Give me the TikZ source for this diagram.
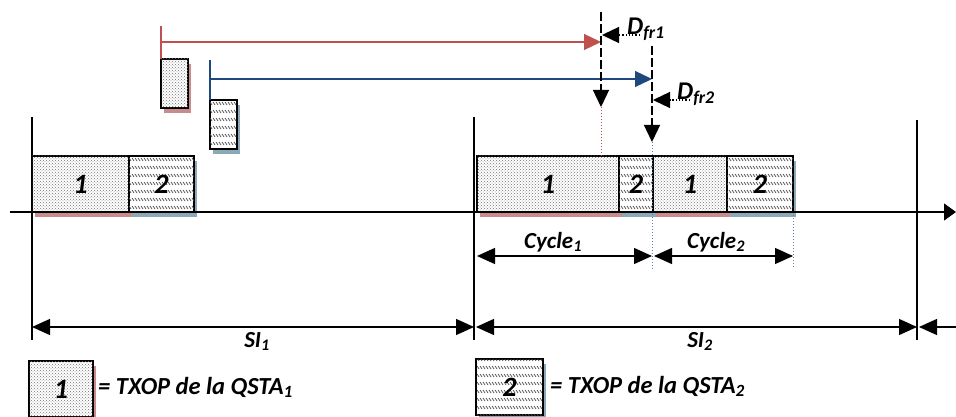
\documentclass[tikz,border=0pt]{standalone}
\usepackage{fontspec}
\setmainfont{Carlito}
\usetikzlibrary{arrows.meta, patterns, shadows, positioning}
\definecolor{LineRed}{RGB}{192,80,77}
\definecolor{LineBlue}{RGB}{31,73,125}
\definecolor{ShadowRed}{RGB}{200,140,140}
\definecolor{ShadowBlue}{RGB}{138,170,184}

% rows of short back-slanted strokes
\pgfdeclarepatternformonly{hatchrows}{\pgfpoint{-1pt}{-1pt}}{\pgfpoint{4pt}{9pt}}{\pgfpoint{3pt}{8pt}}{
	\pgfsetlinewidth{0.7pt}
	\pgfpathmoveto{\pgfpoint{0pt}{3pt}}
	\pgfpathlineto{\pgfpoint{2pt}{0pt}}
	\pgfusepath{stroke}
}

\tikzset{
	txop/.style={draw, line width=1.3pt, fill=white, inner sep=0pt, outer sep=0pt,
		anchor=south west, minimum height=56pt,
		font=\fontsize{28}{30}\selectfont\bfseries\itshape},
	txopA/.style={txop, postaction={pattern=crosshatch dots, pattern color=black!55},
		drop shadow={shadow xshift=3pt, shadow yshift=-5pt, fill=ShadowRed, opacity=1}},
	txopB/.style={txop, postaction={pattern=hatchrows, pattern color=black!70},
		drop shadow={shadow xshift=3pt, shadow yshift=-5pt, fill=ShadowBlue, opacity=1}},
	lbl/.style={inner sep=0pt, font=\fontsize{23}{25}\selectfont\bfseries\itshape},
	keylbl/.style={inner sep=0pt, font=\fontsize{24.5}{27}\selectfont\bfseries\itshape},
	dlbl/.style={inner sep=0pt, font=\fontsize{25.5}{28}\selectfont\bfseries\itshape},
	bound/.style={line width=1.3pt},
	bigtip/.style={-{Triangle[length=17pt,width=16pt]}},
	dimline/.style={line width=1.3pt, {Triangle[length=18pt,width=16pt]}-{Triangle[length=18pt,width=16pt]}},
	longdash/.style={line width=1.3pt, dash pattern=on 9pt off 3pt},
}

\begin{document}
\begin{tikzpicture}[x=1pt, y=-1pt]
	\useasboundingbox (0,0) rectangle (956,417);
	% beacon boundaries
	\foreach \x/\t in {32/117, 474/117, 917/120}
		\draw[bound] (\x,\t) -- (\x,340);
	% TXOP of the first interval
	\node[txopA, minimum width=97pt] (a1) at (32,212) {1};
	\node[txopB, minimum width=65pt] (b1) at (a1.south east) {2};
	% TXOP of the second interval
	\node[txopA, minimum width=142pt] (a2) at (477,212) {1};
	\node[txopB, minimum width=34pt] (b2) at (a2.south east) {2};
	\node[txopA, minimum width=74pt] (a3) at (b2.south east) {1};
	\node[txopB, minimum width=66pt] (b3) at (a3.south east) {2};
	% requests of the two stations
	\node[txopA, minimum width=27pt, minimum height=49pt] (qa) at (161,108) {};
	\node[txopB, minimum width=27pt, minimum height=49pt] (qb) at (210,149) {};
	\coordinate (redtop) at (161,26);
	\coordinate (redknee) at (161,42);
	\coordinate (redend) at (601,42);
	\coordinate (bluetop) at (210,60);
	\coordinate (blueknee) at (210,79);
	\coordinate (blueend) at (652,79);
	\draw[LineRed, line width=1.3pt] (redtop) -- (qa.north west);
	\draw[LineRed, line width=1.3pt, bigtip] (redknee) -- (redend);
	\draw[LineBlue, line width=1.3pt] (bluetop) -- (qb.north west);
	\draw[LineBlue, line width=1.3pt, bigtip] (blueknee) -- (blueend);
	% delays
	\coordinate (fr1top) at (601,12);
	\coordinate (fr1bot) at (601,107);
	\coordinate (fr2top) at (652,46);
	\coordinate (fr2bot) at (652,142);
	\draw[longdash, bigtip] (fr1top) -- (fr1bot);
	\draw[longdash, bigtip] (fr2top) -- (fr2bot);
	\draw[LineRed, dotted, line width=1pt] (fr1bot) -- (601,156);
	\draw[LineBlue!70, dotted, line width=1pt] (fr2bot) -- (652,269);
	\draw[LineBlue!70, dotted, line width=1pt] (b3.south east) -- (793,268);
	\node[dlbl, anchor=base west] (dfr1) at (627,35) {D\textsubscript{fr1}};
	\node[dlbl, anchor=base west] (dfr2) at (677,100) {D\textsubscript{fr2}};
	\draw[dotted, line width=1.3pt, bigtip] (640,35) -- (602,35);
	\draw[dotted, line width=1.3pt, bigtip] (690,100) -- (653,100);
	% time axis
	\coordinate (t0) at (10,212);
	\coordinate (t1) at (956,212);
	\draw[line width=1.3pt, -{Triangle[length=12pt,width=17pt]}] (t0) -- (t1);
	% cycles
	\draw[dimline] (a2.south west |- 0,256) -- (652,256);
	\draw[dimline] (654,256) -- (793,256);
	\node[lbl, anchor=base] (cyc1) at (553,248) {Cycle\textsubscript{1}};
	\node[lbl, anchor=base] (cyc2) at (716,248) {Cycle\textsubscript{2}};
	% superframe intervals
	\coordinate (si0) at (32,327);
	\coordinate (si1) at (474,327);
	\coordinate (si2) at (917,327);
	\draw[dimline] (si0) -- (si1);
	\draw[dimline] (476,327) -- (si2);
	\draw[line width=1.3pt, {Triangle[length=18pt,width=16pt]}-] (919,327) -- (956,327);
	\node[lbl, anchor=base] (si1lbl) at (257,347) {SI\textsubscript{1}};
	\node[lbl, anchor=base] (si2lbl) at (700,347) {SI\textsubscript{2}};
	% legend
	\node[txopA, minimum width=64pt] (keya) at (29,417) {1};
	\node[keylbl, anchor=base west] (keyatxt) at (98,394) {= TXOP de la QSTA\textsubscript{1}};
	\node[txopB, minimum width=67pt] (keyb) at (476,415) {2};
	\node[keylbl, anchor=base west] (keybtxt) at (550,393) {= TXOP de la QSTA\textsubscript{2}};
\end{tikzpicture}
\end{document}
